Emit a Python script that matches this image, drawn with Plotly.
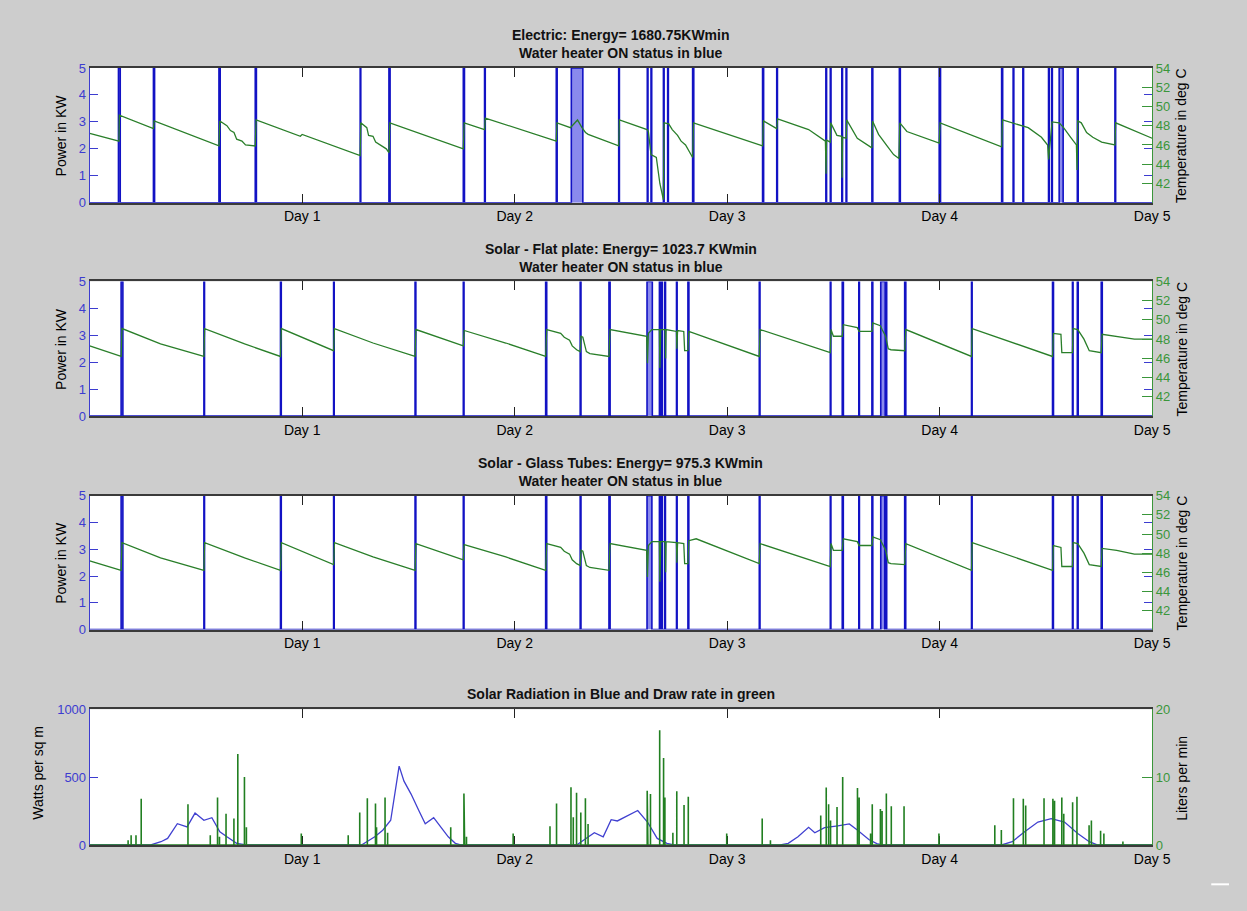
import plotly.graph_objects as go

FIG_W, FIG_H = 1247, 911

# ---------------------------------------------------------------- data
day_tick_hours = [24, 48, 72, 96, 120]
day_tick_labels = ["Day 1", "Day 2", "Day 3", "Day 4", "Day 5"]

panel_titles = [
    "Electric: Energy= 1680.75KWmin",
    "Solar - Flat plate: Energy= 1023.7 KWmin",
    "Solar - Glass Tubes: Energy= 975.3 KWmin",
]
status_subtitle = "Water heater ON status in blue"
weather_title = "Solar Radiation in Blue and Draw rate in green"

heater_power_kw = 5.0

# heater ON periods, (start hour, end hour)
electric_on = [
    (3.25, 3.45), (7.2, 7.33), (14.6, 14.74), (18.7, 18.83), (30.55, 30.62),
    (33.8, 33.93), (42.2, 42.33), (44.6, 44.68), (52.7, 52.8), (54.4, 55.7),
    (59.75, 59.83), (62.98, 63.06), (63.4, 63.48), (64.8, 64.88), (65.28, 65.36),
    (68.1, 68.23), (76.0, 76.12), (77.6, 77.68), (83.15, 83.23), (83.65, 83.73),
    (84.95, 85.03), (85.43, 85.51), (88.35, 88.45), (91.45, 91.56), (95.95, 96.1),
    (103.0, 103.12), (104.3, 104.38), (105.4, 105.48), (108.3, 108.38),
    (108.65, 108.73), (109.5, 109.95), (111.55, 111.65), (115.8, 115.88),
]
flat_plate_on = [
    (3.55, 3.75), (12.9, 12.97), (21.55, 21.64), (27.55, 27.62), (36.75, 36.84),
    (42.2, 42.28), (51.5, 51.62), (55.4, 55.49), (58.65, 58.78), (62.95, 63.55),
    (64.35, 64.43), (64.6, 64.68), (64.95, 65.04), (66.28, 66.35), (67.57, 67.68),
    (75.63, 75.71), (83.65, 83.72), (85.0, 85.13), (86.87, 86.94), (88.35, 88.45),
    (89.35, 89.85), (89.94, 90.02), (92.05, 92.18), (99.6, 99.67), (108.75, 108.86),
    (111.0, 111.07), (111.55, 111.65), (114.25, 114.37),
]
glass_tube_on = [
    (3.55, 3.75), (12.9, 12.97), (21.55, 21.64), (27.55, 27.62), (36.75, 36.84),
    (42.2, 42.28), (51.5, 51.62), (55.4, 55.49), (58.65, 58.78), (62.95, 63.5),
    (64.35, 64.43), (64.6, 64.68), (64.95, 65.03), (66.28, 66.35), (67.57, 67.67),
    (75.63, 75.71), (83.65, 83.72), (85.0, 85.12), (86.87, 86.94), (88.35, 88.45),
    (89.35, 89.8), (89.94, 90.02), (92.05, 92.17), (99.6, 99.67), (108.75, 108.85),
    (111.0, 111.07), (111.55, 111.64), (114.25, 114.36),
]

# tank temperature, (hour, deg C)
electric_temp = [
    (0, 47.2), (3.3, 46.4), (3.35, 49.1), (7.2, 47.7), (7.28, 48.5), (14.6, 45.9),
    (14.7, 48.5), (15.5, 48.0), (15.9, 47.5), (16.3, 47.3), (16.6, 46.6), (17.2, 46.4),
    (17.6, 46.0), (18.7, 45.9), (18.8, 48.6), (23.8, 46.9), (24.0, 47.1), (30.55, 44.9),
    (30.62, 48.3), (31.3, 47.8), (31.5, 47.0), (32.0, 46.9), (32.3, 46.3), (33.0, 45.9),
    (33.5, 45.6), (33.8, 45.2), (33.9, 48.3), (42.2, 45.6), (42.3, 48.3), (44.6, 47.6),
    (44.68, 48.8), (52.7, 46.4), (52.78, 48.3), (54.3, 47.8), (54.8, 48.3), (55.1, 48.6),
    (55.6, 47.8), (56.0, 47.3), (56.3, 47.1), (59.75, 45.9), (59.83, 48.6), (62.95, 47.6),
    (63.1, 47.4), (63.4, 45.0), (64.0, 44.7), (64.4, 42.0), (64.8, 40.3), (64.88, 48.3),
    (65.4, 48.2), (65.8, 47.6), (66.4, 47.0), (66.8, 46.4), (67.3, 46.0), (68.1, 44.7),
    (68.2, 48.3), (76.0, 45.9), (76.1, 48.5), (77.6, 47.7), (77.7, 48.7), (81.2, 47.6),
    (83.1, 46.4), (83.17, 43.0), (83.22, 46.5), (83.65, 46.3), (83.7, 48.3), (84.4, 47.0),
    (84.95, 46.9), (84.99, 42.6), (85.03, 46.8), (85.45, 46.7), (85.5, 48.6), (86.7, 46.7),
    (88.35, 45.7), (88.42, 48.5), (88.7, 47.9), (89.1, 47.1), (90.06, 45.9), (90.8, 45.0),
    (91.4, 44.6), (91.5, 48.3), (92.3, 47.4), (95.95, 46.2), (96.05, 48.3), (103.0, 45.8),
    (103.1, 48.6), (104.3, 48.3), (105.4, 48.0), (106.0, 47.8), (107.5, 46.8), (108.2, 46.0),
    (108.3, 44.5), (108.7, 48.4), (109.5, 48.3), (110.0, 47.8), (110.8, 46.8),
    (111.45, 46.0), (111.52, 43.4), (111.6, 48.5), (112.0, 48.3), (112.6, 47.3),
    (113.3, 46.8), (114.3, 46.3), (115.8, 46.0), (115.88, 48.3), (120, 46.7),
]
flat_plate_temp = [
    (0, 47.3), (3.55, 46.2), (3.65, 49.1), (8.0, 47.5), (12.9, 46.2), (12.98, 49.1),
    (17.5, 47.5), (21.55, 46.2), (21.65, 49.1), (27.55, 46.8), (27.65, 49.1), (32.0, 47.6),
    (36.75, 46.2), (36.85, 49.0), (42.2, 47.3), (42.3, 48.9), (47.0, 47.6), (51.5, 46.2),
    (51.62, 49.0), (53.2, 48.6), (53.6, 48.2), (54.2, 47.9), (54.5, 47.3), (55.0, 46.9),
    (55.4, 46.7), (55.5, 48.3), (55.7, 48.2), (56.1, 46.7), (56.5, 46.5), (58.65, 46.2),
    (58.78, 49.0), (62.9, 48.3), (63.0, 45.5), (63.1, 48.6), (63.5, 49.0), (64.35, 49.0),
    (64.4, 45.0), (64.5, 49.0), (65.0, 49.0), (65.05, 46.0), (65.1, 49.0), (66.28, 48.8),
    (66.32, 47.0), (66.4, 48.9), (67.1, 48.8), (67.2, 46.8), (67.57, 46.8), (67.67, 48.8),
    (75.63, 46.2), (75.72, 49.0), (83.65, 46.6), (83.73, 49.0), (84.0, 48.3), (85.0, 48.3),
    (85.12, 49.5), (86.7, 49.2), (86.9, 48.8), (88.35, 48.8), (88.45, 49.7), (89.3, 49.4),
    (89.5, 49.0), (89.9, 48.3), (90.2, 47.0), (90.5, 46.9), (92.05, 46.8), (92.18, 49.0),
    (99.6, 46.2), (99.68, 49.1), (108.75, 46.2), (108.85, 48.6), (109.7, 48.5),
    (109.8, 46.6), (111.0, 46.6), (111.08, 49.1), (111.6, 49.0), (112.3, 48.0),
    (112.9, 46.8), (114.25, 46.6), (114.35, 48.5), (116.0, 48.3), (118.0, 48.0), (120, 48.0),
]
glass_tube_temp = [
    (0, 47.2), (3.55, 46.2), (3.65, 49.1), (8.0, 47.5), (12.9, 46.2), (12.98, 49.1),
    (17.5, 47.5), (21.55, 46.2), (21.65, 49.1), (27.55, 46.8), (27.65, 49.1), (32.0, 47.6),
    (36.75, 46.2), (36.85, 49.0), (42.2, 47.3), (42.3, 48.9), (47.0, 47.6), (51.5, 46.2),
    (51.62, 49.0), (53.2, 48.6), (53.6, 48.2), (54.2, 47.9), (54.5, 47.3), (55.0, 46.9),
    (55.4, 46.7), (55.5, 48.3), (55.7, 48.2), (56.1, 46.7), (56.5, 46.5), (58.65, 46.2),
    (58.78, 49.0), (62.9, 48.3), (63.0, 45.5), (63.1, 48.8), (63.5, 49.2), (64.35, 49.2),
    (64.4, 45.0), (64.5, 49.2), (65.0, 49.2), (65.05, 46.0), (65.1, 49.2), (66.28, 49.1),
    (66.32, 47.0), (66.4, 49.1), (67.1, 49.0), (67.2, 46.9), (67.57, 46.9), (67.67, 49.3),
    (68.5, 49.5), (75.63, 46.9), (75.72, 49.0), (83.65, 46.6), (83.73, 49.0), (84.0, 48.3),
    (85.0, 48.3), (85.12, 49.5), (86.7, 49.2), (86.9, 48.8), (88.35, 48.8), (88.45, 49.7),
    (89.3, 49.4), (89.5, 49.0), (89.9, 48.3), (90.2, 47.0), (90.5, 46.9), (92.05, 46.8),
    (92.18, 49.0), (99.6, 46.2), (99.68, 49.1), (108.75, 46.2), (108.85, 48.8),
    (109.7, 48.6), (109.8, 46.6), (111.0, 46.6), (111.08, 49.1), (111.6, 49.0),
    (112.3, 48.0), (112.9, 46.8), (114.25, 46.6), (114.35, 48.5), (116.0, 48.3),
    (118.0, 47.9), (120, 47.9),
]

# solar radiation, (hour, W/m^2)
solar_radiation = [
    (0, 0), (6.9, 0), (8.05, 24), (8.8, 48), (9.9, 157), (11.0, 133), (11.9, 235),
    (12.9, 182), (13.8, 201), (14.7, 97), (15.5, 60), (16.6, 12), (17.7, 0),
    (30.7, 0), (32.2, 60), (33.1, 109), (34.0, 182), (34.95, 581), (35.5, 470),
    (36.3, 375), (37.2, 250), (37.9, 157), (38.85, 201), (39.6, 140), (40.5, 60),
    (41.3, 12), (41.9, 0), (55.0, 0), (56.3, 60), (57.0, 90), (58.0, 60), (58.9, 186),
    (59.6, 177), (60.6, 211), (61.9, 254), (63.0, 169), (64.1, 48), (65.2, 12),
    (66.0, 0), (78.0, 0), (78.9, 12), (80.0, 60), (81.2, 130), (81.9, 90), (83.0, 128),
    (84.5, 140), (85.8, 155), (86.7, 110), (88.0, 40), (88.9, 10), (89.5, 0),
    (103.0, 0), (104.2, 24), (105.6, 97), (107.1, 169), (108.6, 194), (110.1, 169),
    (111.6, 85), (112.9, 24), (113.8, 0), (120, 0),
]

# hot water draws, (hour, litres per minute)
draw_rate = [
    (4.34, 0.7), (4.68, 1.45), (5.23, 1.45), (5.82, 6.8), (11.1, 6.0), (13.62, 1.45),
    (14.44, 7.0), (14.66, 1.2), (15.4, 4.6), (16.29, 3.9), (16.73, 13.4), (17.48, 10.0),
    (17.7, 2.6), (23.9, 1.7), (29.2, 1.45), (30.5, 4.8), (31.36, 6.9), (32.28, 6.1),
    (32.4, 2.6), (33.36, 7.0), (33.65, 1.8), (40.78, 2.6), (42.27, 7.6), (42.35, 7.6),
    (42.56, 1.2), (47.83, 1.7), (51.99, 2.75), (52.73, 6.1), (54.36, 8.5), (54.62, 4.1),
    (54.99, 7.7), (55.47, 4.8), (55.99, 6.9), (56.29, 3.1), (62.97, 8.0), (63.05, 7.8),
    (63.34, 7.5), (64.38, 16.9), (64.82, 12.8), (64.97, 7.0), (65.87, 1.8), (66.31, 7.9),
    (67.13, 5.9), (67.61, 7.1), (71.95, 1.7), (75.96, 3.9), (76.89, 0.7), (82.57, 4.35),
    (83.19, 8.45), (83.46, 6.0), (83.68, 3.6), (84.41, 5.6), (85.05, 10.0), (86.72, 8.4),
    (86.91, 7.0), (88.2, 1.7), (88.39, 6.0), (89.31, 5.3), (89.5, 5.0), (89.98, 7.6),
    (90.54, 5.7), (91.98, 5.7), (95.92, 1.7), (102.23, 2.9), (102.97, 2.2), (104.34, 6.9),
    (105.45, 6.8), (105.72, 5.8), (107.79, 6.9), (108.79, 6.8), (108.98, 6.5),
    (109.8, 7.0), (110.02, 4.6), (111.02, 6.3), (111.51, 7.1), (112.88, 2.9),
    (113.14, 3.6), (114.18, 2.1), (114.55, 1.7), (116.7, 0.5),
]

# ---------------------------------------------------------------- styling
BG = "#cdcdcd"
BLUE = "#1212c4"
BLUE_FILL = "rgba(60,60,225,0.6)"
BLUE_AXIS = "#3c3cd0"
GREEN = "#2a7f2a"
GREEN_AXIS = "#3a963a"
FONT = "Liberation Sans, Arial, sans-serif"
X_END = 120

X_DOMAIN = [91 / FIG_W, 1169 / FIG_W]
# plot box (top, bottom) in pixels for the four panels
panel_px = [(62, 199), (279, 416), (497, 633), (714, 852)]


def ydom(top, bottom):
    return [1 - bottom / FIG_H, 1 - top / FIG_H]


def step_series(intervals, level):
    xs, ys = [0], [0]
    for start, end in intervals:
        xs += [start, start, end, end]
        ys += [0, level, level, 0]
    xs.append(X_END)
    ys.append(0)
    return xs, ys


def spike_series(events):
    xs, ys = [0], [0]
    for t, v in events:
        xs += [t, t, t]
        ys += [0, v, 0]
    xs.append(X_END)
    ys.append(0)
    return xs, ys


fig = go.Figure()

heater_sets = [electric_on, flat_plate_on, glass_tube_on]
temp_sets = [electric_temp, flat_plate_temp, glass_tube_temp]

for i in range(3):
    ya = "y" if i == 0 else f"y{2 * i + 1}"
    yb = f"y{2 * i + 2}"
    xa = "x" if i == 0 else f"x{i + 1}"
    hx, hy = step_series(heater_sets[i], heater_power_kw)
    fig.add_trace(go.Scatter(
        x=hx, y=hy, mode="lines", xaxis=xa, yaxis=ya,
        line=dict(color=BLUE, width=1.6), fill="tozeroy", fillcolor=BLUE_FILL,
        hoverinfo="skip", showlegend=False))
    tx, tv = zip(*temp_sets[i])
    fig.add_trace(go.Scatter(
        x=list(tx), y=list(tv), mode="lines", xaxis=xa, yaxis=yb,
        line=dict(color=GREEN, width=1.3), showlegend=False))

rx, rv = zip(*solar_radiation)
fig.add_trace(go.Scatter(
    x=list(rx), y=list(rv), mode="lines", xaxis="x4", yaxis="y7",
    line=dict(color="#4040d0", width=1.3), showlegend=False))
dx, dv = spike_series(draw_rate)
fig.add_trace(go.Scatter(
    x=dx, y=dv, mode="lines", xaxis="x4", yaxis="y8",
    line=dict(color="#217f21", width=1.6), showlegend=False))

layout = dict(
    width=FIG_W, height=FIG_H, autosize=False,
    margin=dict(l=0, r=0, t=0, b=0),
    paper_bgcolor=BG, plot_bgcolor="white",
    font=dict(family=FONT, size=14, color="black"),
    showlegend=False,
)

left_ranges = [(0, 5, [0, 1, 2, 3, 4, 5])] * 3 + [(0, 1000, [0, 500, 1000])]
right_ranges = [(40, 54, [42, 44, 46, 48, 50, 52, 54])] * 3 + [(0, 20, [0, 10, 20])]

for i, (top, bottom) in enumerate(panel_px):
    xkey = "xaxis" if i == 0 else f"xaxis{i + 1}"
    ykey_l = "yaxis" if i == 0 else f"yaxis{2 * i + 1}"
    ykey_r = f"yaxis{2 * i + 2}"
    yref_l = "y" if i == 0 else f"y{2 * i + 1}"
    dom = ydom(top, bottom)
    layout[xkey] = dict(
        domain=X_DOMAIN, range=[0, X_END], anchor=yref_l,
        tickmode="array", tickvals=day_tick_hours, ticktext=day_tick_labels,
        ticks="inside", ticklen=9, tickwidth=1, tickcolor="#222222",
        showline=True, linecolor="#3a3a3a", linewidth=1.8, mirror="ticks",
        showgrid=False, zeroline=False, fixedrange=True,
        tickfont=dict(size=14, color="black", family=FONT),
        layer="below traces" if i == 3 else "above traces",
    )
    lo, hi, tv = left_ranges[i]
    layout[ykey_l] = dict(
        domain=dom, range=[lo, hi], anchor="x" if i == 0 else f"x{i + 1}",
        tickmode="array", tickvals=tv, ticks="inside", ticklen=8,
        tickcolor=BLUE_AXIS, showline=True, linecolor=BLUE_AXIS, linewidth=1,
        mirror="ticks", showgrid=False, zeroline=False,
        tickfont=dict(size=13, color=BLUE_AXIS, family=FONT),
    )
    lo, hi, tv = right_ranges[i]
    layout[ykey_r] = dict(
        range=[lo, hi], overlaying=yref_l, side="right",
        anchor="x" if i == 0 else f"x{i + 1}",
        tickmode="array", tickvals=tv, ticks="inside", ticklen=10,
        tickcolor=GREEN_AXIS, showline=True, linecolor=GREEN_AXIS, linewidth=1,
        showgrid=False, zeroline=False,
        tickfont=dict(size=13, color=GREEN_AXIS, family=FONT),
    )

fig.update_layout(**layout)

annotations = []
title_centres = [38, 255, 473]
for i, title in enumerate(panel_titles):
    annotations.append(dict(
        text=f"<b>{title}</b><br><b>{status_subtitle}</b>",
        x=630 / FIG_W, y=1 - title_centres[i] / FIG_H, xref="paper", yref="paper",
        xanchor="center", yanchor="middle", showarrow=False,
        font=dict(size=14, color="#111111", family=FONT)))
annotations.append(dict(
    text=f"<b>{weather_title}</b>",
    x=630 / FIG_W, y=1 - 699 / FIG_H, xref="paper", yref="paper",
    xanchor="center", yanchor="middle", showarrow=False,
    font=dict(size=14, color="#111111", family=FONT)))

for i, (top, bottom) in enumerate(panel_px[:3]):
    mid = 1 - (top + bottom) / 2 / FIG_H
    annotations.append(dict(
        text="Power in KW", x=62 / FIG_W, y=mid, xref="paper", yref="paper",
        textangle=-90, showarrow=False, xanchor="center", yanchor="middle",
        font=dict(size=14, color="black", family=FONT)))
    annotations.append(dict(
        text="Temperature in deg C", x=1199 / FIG_W, y=mid, xref="paper", yref="paper",
        textangle=-90, showarrow=False, xanchor="center", yanchor="middle",
        font=dict(size=14, color="black", family=FONT)))

annotations.append(dict(
    text="Watts per sq m", x=39 / FIG_W, y=1 - 778 / FIG_H, xref="paper", yref="paper",
    textangle=-90, showarrow=False, xanchor="center", yanchor="middle",
    font=dict(size=14, color="black", family=FONT)))
annotations.append(dict(
    text="Liters per min", x=1199 / FIG_W, y=1 - 784 / FIG_H, xref="paper", yref="paper",
    textangle=-90, showarrow=False, xanchor="center", yanchor="middle",
    font=dict(size=14, color="black", family=FONT)))

fig.update_layout(annotations=annotations)

fig.add_shape(type="line", xref="paper", yref="paper",
              x0=1229 / FIG_W, x1=1.0, y0=1 - 892 / FIG_H, y1=1 - 892 / FIG_H,
              line=dict(color="white", width=2))

fig.write_html("out.html")
